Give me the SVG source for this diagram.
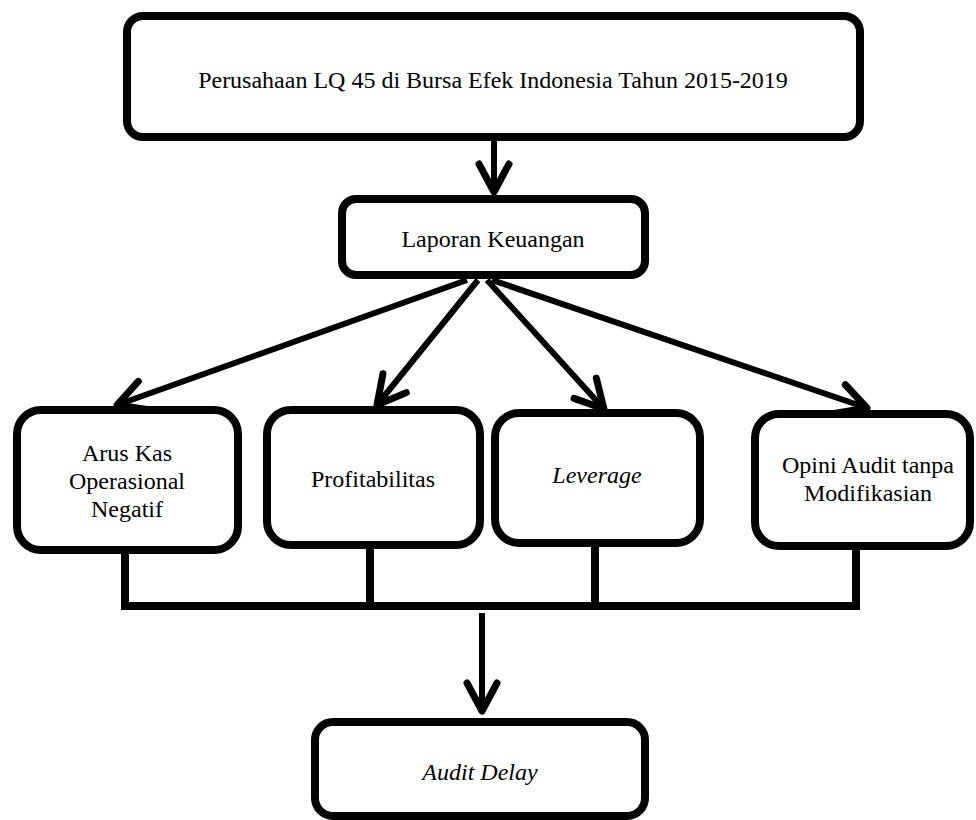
<svg xmlns="http://www.w3.org/2000/svg" width="976" height="820" viewBox="0 0 976 820">
<style>
.box{fill:#fff;stroke:#000;stroke-width:8}
text{font-family:'Liberation Serif','Times New Roman',Times,serif;font-size:24px;fill:#000;text-anchor:middle}
.i{font-style:italic}
.c{fill:none;stroke:#000;stroke-width:6}
.bus{fill:none;stroke:#000;stroke-width:8;stroke-linejoin:miter}
</style>
<defs>
<marker id="ah" markerUnits="userSpaceOnUse" markerWidth="60" markerHeight="60" refX="0" refY="0" orient="auto" overflow="visible" viewBox="-40 -30 60 60">
<path d="M -28,-15 L 0,0 L -28,15" fill="none" stroke="#000" stroke-width="7" stroke-linecap="round" stroke-linejoin="round"/>
</marker>
</defs>
<rect width="976" height="820" fill="#fff"/>
<g id="connectors">
<line class="c" x1="494" y1="141" x2="494" y2="192" marker-end="url(#ah)"/>
<line class="c" x1="467" y1="280" x2="117" y2="405" marker-end="url(#ah)"/>
<line class="c" x1="478" y1="280" x2="377" y2="405" marker-end="url(#ah)"/>
<line class="c" x1="487" y1="280" x2="604" y2="409" marker-end="url(#ah)"/>
<line class="c" x1="492" y1="280" x2="867" y2="408" marker-end="url(#ah)"/>
<path class="bus" d="M125,554 V606 M370,549 V606 M595,547 V606 M856,550 V606 M121,606 H860"/>
<line class="c" x1="482" y1="613" x2="482" y2="711" marker-end="url(#ah)"/>
</g>
<g id="n-perusahaan">
<rect class="box" x="127" y="16" width="733" height="121" rx="16"/>
<text x="493" y="88">Perusahaan LQ 45 di Bursa Efek Indonesia Tahun 2015-2019</text>
</g>
<g id="n-laporan">
<rect class="box" x="342" y="199" width="303" height="76" rx="14"/>
<text x="493" y="247">Laporan Keuangan</text>
</g>
<g id="n-arus">
<rect class="box" x="17" y="410" width="221" height="140" rx="24"/>
<text x="127" y="461">Arus Kas</text>
<text x="127" y="489">Operasional</text>
<text x="127" y="517">Negatif</text>
</g>
<g id="n-profit">
<rect class="box" x="267" y="410" width="213" height="135" rx="24"/>
<text x="373" y="487">Profitabilitas</text>
</g>
<g id="n-leverage">
<rect class="box" x="495" y="413" width="205" height="130" rx="24"/>
<text class="i" x="597" y="483">Leverage</text>
</g>
<g id="n-opini">
<rect class="box" x="755" y="414" width="215" height="132" rx="24"/>
<text x="868" y="473">Opini Audit tanpa</text>
<text x="868" y="501">Modifikasian</text>
</g>
<g id="n-audit">
<rect class="box" x="315" y="722" width="330" height="94" rx="18"/>
<text class="i" x="480" y="780">Audit Delay</text>
</g>
</svg>
